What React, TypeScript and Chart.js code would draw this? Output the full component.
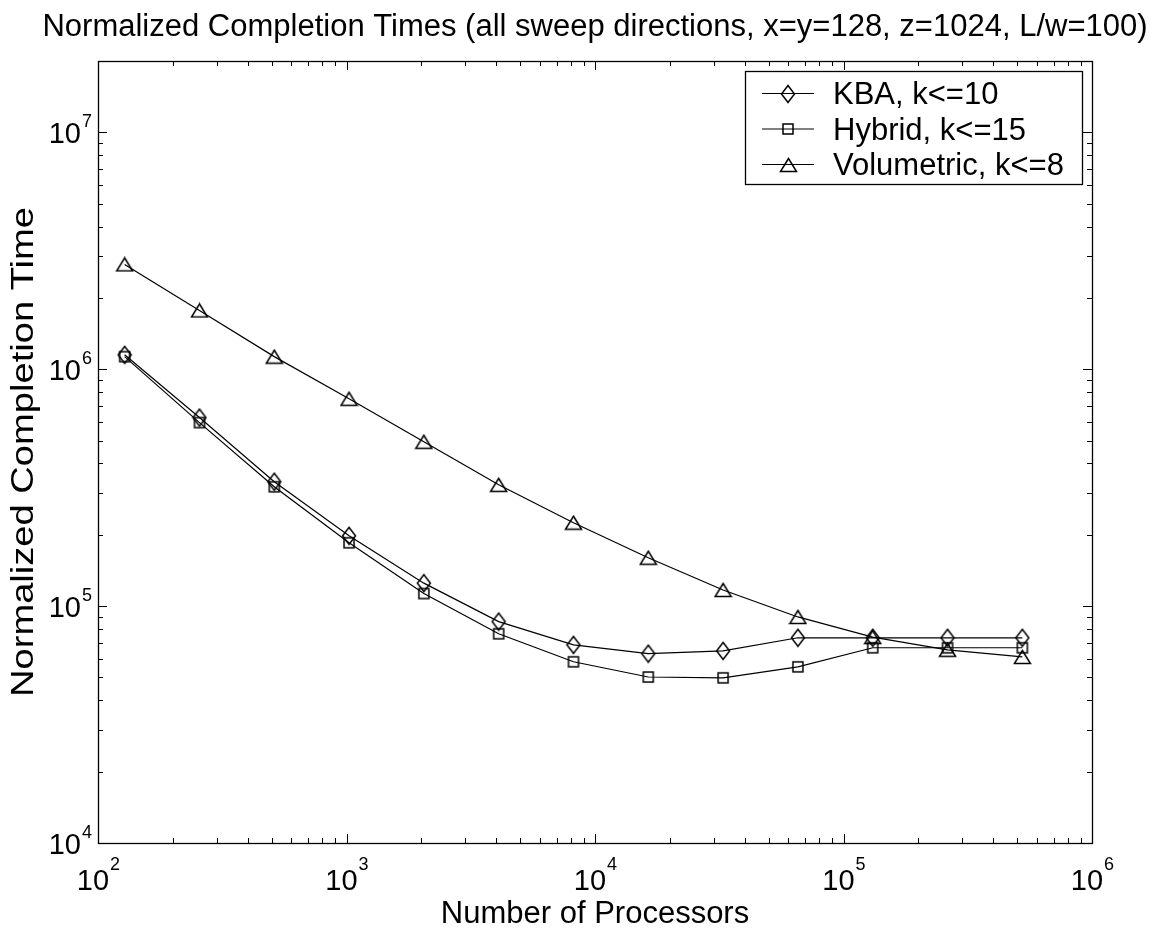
import React, { useEffect, useRef } from 'react';
import { Chart, registerables } from 'chart.js';

Chart.register(...registerables);

// ---------- data ----------
const processors = [128, 256, 512, 1024, 2048, 4096, 8192, 16384, 32768, 65536, 131072, 262144, 524288];
const kbaTimes = [1.15e6, 6.25e5, 3.35e5, 1.98e5, 1.25e5, 8.6e4, 6.86e4, 6.3e4, 6.47e4, 7.35e4, 7.35e4, 7.35e4, 7.35e4];
const hybridTimes = [1.13e6, 5.95e5, 3.19e5, 1.85e5, 1.13e5, 7.64e4, 5.82e4, 5.02e4, 4.98e4, 5.54e4, 6.67e4, 6.67e4, 6.67e4];
const volumetricTimes = [2.77e6, 1.77e6, 1.13e6, 7.5e5, 4.94e5, 3.25e5, 2.25e5, 1.6e5, 1.17e5, 9.0e4, 7.4e4, 6.54e4, 6.1e4];
const seriesLabels = ['KBA, k<=10', 'Hybrid, k<=15', 'Volumetric, k<=8'];
const xDecades = [2, 3, 4, 5, 6];
const yDecades = [4, 5, 6, 7];
const titleText = 'Normalized Completion Times (all sweep directions, x=y=128, z=1024, L/w=100)';
const xTitle = 'Number of Processors';
const yTitle = 'Normalized Completion Time';
const X_MIN = 100;
const X_MAX = 1e6;
const Y_MIN = 1e4;
const Y_MAX = 2e7;

const FONT = '"Liberation Sans", Arial, Helvetica, sans-serif';

function makeMarker(kind: string): HTMLCanvasElement {
  const c = document.createElement('canvas');
  let w = 16, h = 20;
  if (kind === 'square') { w = 14; h = 14; }
  if (kind === 'triangle') { w = 19; h = 16; }
  c.width = w; c.height = h;
  const g = c.getContext('2d')!;
  g.strokeStyle = '#000';
  g.lineWidth = 1.5;
  g.beginPath();
  if (kind === 'diamond') {
    g.moveTo(8, 1.5); g.lineTo(14.5, 10); g.lineTo(8, 18.5); g.lineTo(1.5, 10); g.closePath();
  } else if (kind === 'square') {
    g.rect(2, 2, 10, 10);
  } else {
    g.moveTo(9.5, 1.5); g.lineTo(17.5, 14.5); g.lineTo(1.5, 14.5); g.closePath();
  }
  g.stroke();
  return c;
}

export default function App() {
  const ref = useRef<HTMLCanvasElement | null>(null);

  useEffect(() => {
    const canvas = ref.current;
    if (!canvas) return;
    const markers = [makeMarker('diamond'), makeMarker('square'), makeMarker('triangle')];
    const seriesData = [kbaTimes, hybridTimes, volumetricTimes];

    const axesPlugin = {
      id: 'matlabAxes',
      afterDraw(chart: any) {
        const { ctx, chartArea: a, scales } = chart;
        const xs = scales.x;
        const ys = scales.y;
        ctx.save();
        ctx.strokeStyle = '#000';
        ctx.lineWidth = 1;
        const major = 9;
        const minor = 5;
        ctx.beginPath();
        xDecades.forEach((d, i) => {
          const v = Math.pow(10, d);
          const px = Math.round(xs.getPixelForValue(v)) + 0.5;
          ctx.moveTo(px, a.bottom); ctx.lineTo(px, a.bottom - major);
          ctx.moveTo(px, a.top); ctx.lineTo(px, a.top + major);
          if (i < xDecades.length - 1) {
            for (let m = 2; m <= 9; m++) {
              const p = Math.round(xs.getPixelForValue(m * v)) + 0.5;
              ctx.moveTo(p, a.bottom); ctx.lineTo(p, a.bottom - minor);
              ctx.moveTo(p, a.top); ctx.lineTo(p, a.top + minor);
            }
          }
        });
        yDecades.forEach((d) => {
          const v = Math.pow(10, d);
          const py = Math.round(ys.getPixelForValue(v)) + 0.5;
          ctx.moveTo(a.left, py); ctx.lineTo(a.left + major, py);
          ctx.moveTo(a.right, py); ctx.lineTo(a.right - major, py);
          for (let m = 2; m <= 9; m++) {
            if (m * v > Y_MAX) break;
            const p = Math.round(ys.getPixelForValue(m * v)) + 0.5;
            ctx.moveTo(a.left, p); ctx.lineTo(a.left + minor, p);
            ctx.moveTo(a.right, p); ctx.lineTo(a.right - minor, p);
          }
        });
        ctx.stroke();
        ctx.lineWidth = 1.3;
        ctx.strokeRect(Math.round(a.left) + 0.5, Math.round(a.top) + 0.5,
          Math.round(a.right - a.left), Math.round(a.bottom - a.top));

        // tick labels
        ctx.fillStyle = '#000';
        ctx.textBaseline = 'alphabetic';
        const baseFont = '29px ' + FONT;
        const expFont = '18px ' + FONT;
        xDecades.forEach((d) => {
          const px = xs.getPixelForValue(Math.pow(10, d));
          ctx.font = baseFont;
          const w1 = ctx.measureText('10').width;
          ctx.font = expFont;
          const w2 = ctx.measureText(String(d)).width;
          const x0 = px - (w1 + w2) / 2;
          ctx.textAlign = 'left';
          ctx.font = baseFont;
          ctx.fillText('10', x0, a.bottom + 47);
          ctx.font = expFont;
          ctx.fillText(String(d), x0 + w1 + 1, a.bottom + 27);
        });
        yDecades.forEach((d) => {
          const py = ys.getPixelForValue(Math.pow(10, d));
          ctx.font = expFont;
          const w2 = ctx.measureText(String(d)).width;
          ctx.textAlign = 'right';
          ctx.fillText(String(d), a.left - 6, py - 5);
          ctx.font = baseFont;
          ctx.fillText('10', a.left - 6 - w2 - 1, py + 11);
        });

        // titles
        ctx.font = '31px ' + FONT;
        ctx.textAlign = 'center';
        const cx = (a.left + a.right) / 2;
        ctx.fillText(titleText, cx, 36);
        ctx.fillText(xTitle, cx, 923);

        ctx.save();
        ctx.font = '31px ' + FONT;
        const yw = ctx.measureText(yTitle).width;
        const targetLen = 490;
        ctx.translate(33, (a.top + a.bottom) / 2);
        ctx.rotate(-Math.PI / 2);
        ctx.scale(targetLen / yw, 1);
        ctx.textAlign = 'center';
        ctx.fillText(yTitle, 0, 0);
        ctx.restore();

        // legend
        const lx = 745, ly = 71, lw = 337, lh = 113;
        ctx.fillStyle = '#fff';
        ctx.fillRect(lx, ly, lw, lh);
        ctx.strokeStyle = '#000';
        ctx.lineWidth = 1.3;
        ctx.strokeRect(lx + 0.5, ly + 0.5, lw, lh);
        const rows = [93, 128.5, 164];
        seriesLabels.forEach((lab, i) => {
          const ry = rows[i];
          ctx.beginPath();
          ctx.lineWidth = 1.2;
          ctx.moveTo(762, ry + 0.5); ctx.lineTo(814, ry + 0.5);
          ctx.stroke();
          const mk = markers[i];
          ctx.drawImage(mk, Math.round(788 - mk.width / 2), Math.round(ry + 0.5 - mk.height / 2));
          ctx.fillStyle = '#000';
          ctx.font = '31px ' + FONT;
          ctx.textAlign = 'left';
          ctx.fillText(lab, 833, ry + 11);
        });
        ctx.restore();
      },
    };

    const chart = new Chart(canvas, {
      type: 'line',
      data: {
        datasets: seriesLabels.map((lab, i) => ({
          label: lab,
          data: processors.map((p, j) => ({ x: p, y: seriesData[i][j] })),
          borderColor: '#000',
          borderWidth: 1.2,
          backgroundColor: 'rgba(0,0,0,0)',
          pointStyle: markers[i] as any,
          pointRadius: 8,
          fill: false,
          tension: 0,
        })),
      },
      options: {
        responsive: false,
        animation: false,
        devicePixelRatio: 1,
        layout: { padding: { left: 98, right: 67, top: 61, bottom: 87 } },
        plugins: { legend: { display: false }, title: { display: false }, tooltip: { enabled: false } },
        events: [],
        scales: {
          x: { type: 'logarithmic', min: X_MIN, max: X_MAX, display: false },
          y: { type: 'logarithmic', min: Y_MIN, max: Y_MAX, display: false },
        },
      },
      plugins: [axesPlugin],
    });
    return () => chart.destroy();
  }, []);

  return (
    <div style={{ position: 'fixed', left: 0, top: 0, width: 1159, height: 930, background: '#fff' }}>
      <canvas ref={ref} width={1159} height={930} style={{ width: 1159, height: 930, display: 'block' }} />
    </div>
  );
}
